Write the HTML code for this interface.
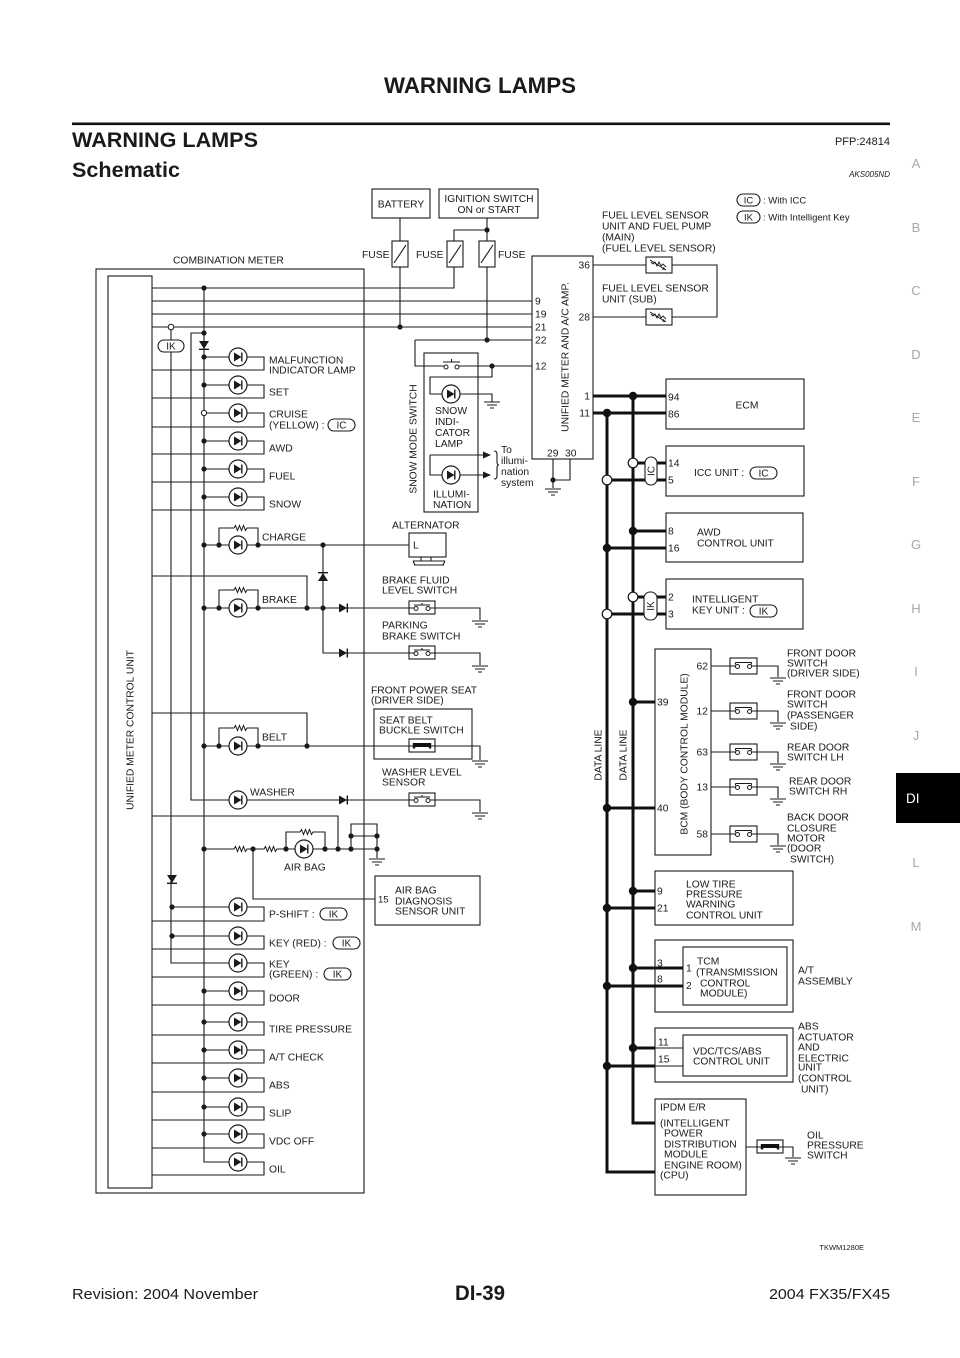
<!DOCTYPE html>
<html><head><meta charset="utf-8"><style>
html,body{margin:0;padding:0;background:#fff;}
svg{display:block;}
text{font-family:"Liberation Sans",Arial,sans-serif;fill:#1a1a1a;}
.t{font-size:10.3px;}
.w{fill:none;stroke:#1a1a1a;stroke-width:1.1;}
.k{fill:none;stroke:#111;stroke-width:3;}
.b{fill:#fff;stroke:#1a1a1a;stroke-width:1.1;}
.tab{font-size:13px;fill:#a8a8a8;text-anchor:middle;}
</style></head><body>
<svg width="960" height="1358" viewBox="0 0 960 1358" xmlns="http://www.w3.org/2000/svg">
<defs>
<g id="lamp"><circle r="9" fill="#fff" stroke="#1a1a1a" stroke-width="1.2"/><path d="M-4,-4.5 L-4,4.5 L3.5,0 Z" fill="#1a1a1a"/><path d="M3.8,-4.5 V4.5" stroke="#1a1a1a" stroke-width="1.4"/></g>
<g id="dR"><path d="M-4,-4.5 L-4,4.5 L4,0 Z" fill="#1a1a1a"/><path d="M4.3,-4.5 V4.5" stroke="#1a1a1a" stroke-width="1.4"/></g>
<g id="dD"><path d="M-5,-4 L5,-4 L0,4 Z" fill="#1a1a1a"/><path d="M-5,4.3 H5" stroke="#1a1a1a" stroke-width="1.4"/></g>
<g id="dU"><path d="M-5,4 L5,4 L0,-4 Z" fill="#1a1a1a"/><path d="M-5,-4.3 H5" stroke="#1a1a1a" stroke-width="1.4"/></g>
<g id="gnd"><path d="M-8,0 H8 M-5,3 H5 M-2,6 H2" stroke="#1a1a1a" stroke-width="1.1" fill="none"/></g>
<g id="sw"><rect x="-13" y="-7" width="26" height="13" fill="#fff" stroke="#1a1a1a" stroke-width="1.1"/><path d="M-8,-3 H8 M0,-3 V-5 M-13,0 H-8 M8,0 H13" stroke="#1a1a1a" stroke-width="1.1" fill="none"/><circle cx="-6" cy="0.5" r="2" fill="#fff" stroke="#1a1a1a"/><circle cx="6" cy="0.5" r="2" fill="#fff" stroke="#1a1a1a"/></g>
<g id="dsw"><rect x="-13.5" y="-8" width="27" height="16" fill="#fff" stroke="#1a1a1a" stroke-width="1.1"/><path d="M-8,-3.5 H8 M-8,-3.5 V-1.5 M8,-3.5 V-1.5 M-13.5,0 H-8 M8,0 H13.5" stroke="#1a1a1a" stroke-width="1.1" fill="none"/><circle cx="-6" cy="0.5" r="2" fill="#fff" stroke="#1a1a1a"/><circle cx="6" cy="0.5" r="2" fill="#fff" stroke="#1a1a1a"/></g>
<g id="bsw"><rect x="-13" y="-7" width="26" height="13" fill="#fff" stroke="#1a1a1a" stroke-width="1.1"/><rect x="-8" y="-3" width="16" height="4" fill="#111"/><path d="M-8,-3 V2.5 M8,-3 V2.5" stroke="#111" stroke-width="2.4"/><path d="M-13,0 H-9 M9,0 H13" stroke="#1a1a1a" stroke-width="1.1"/></g>
<g id="res"><rect x="-8" y="-3" width="16" height="6" fill="#fff"/><path d="M-8,0 H-6 l1.5,-2.5 l2,5 l2,-5 l2,5 l2,-5 l2,5 l1.5,-2.5 H8" stroke="#1a1a1a" stroke-width="1" fill="none"/></g>
<g id="fuse"><rect x="-8" y="-13" width="16" height="26" fill="#fff" stroke="#1a1a1a" stroke-width="1.1"/><path d="M-6,9 L6,-9" stroke="#1a1a1a" stroke-width="1.1"/></g>
<g id="vres"><rect x="-13" y="-8" width="26" height="16" fill="#fff" stroke="#1a1a1a" stroke-width="1.1"/><path d="M-8,-3 l2,2 l2,-2 l2,4 l2,-4 l2,4 l2,-2 l3,3" stroke="#1a1a1a" stroke-width="0.9" fill="none"/><path d="M-9,-5 L7,5" stroke="#1a1a1a" stroke-width="0.9"/><path d="M7,5 l-4,-0.5 l1.5,-2.5 z" fill="#1a1a1a"/></g>
</defs>

<!-- Header -->
<text x="480" y="93" font-size="22" font-weight="bold" text-anchor="middle" textLength="192" lengthAdjust="spacingAndGlyphs">WARNING LAMPS</text>
<rect x="72" y="122.5" width="818" height="2.6" fill="#111"/>
<text x="72" y="147" font-size="21.5" font-weight="bold" textLength="186" lengthAdjust="spacingAndGlyphs">WARNING LAMPS</text>
<text x="890" y="145" font-size="11" text-anchor="end">PFP:24814</text>
<text x="72" y="177" font-size="21.5" font-weight="bold" textLength="108" lengthAdjust="spacingAndGlyphs">Schematic</text>
<text x="890" y="177" font-size="8" font-style="italic" text-anchor="end">AKS005ND</text>

<!-- Tabs -->
<text class="tab" x="916" y="168">A</text>
<text class="tab" x="916" y="232">B</text>
<text class="tab" x="916" y="295">C</text>
<text class="tab" x="916" y="359">D</text>
<text class="tab" x="916" y="422">E</text>
<text class="tab" x="916" y="486">F</text>
<text class="tab" x="916" y="549">G</text>
<text class="tab" x="916" y="613">H</text>
<text class="tab" x="916" y="676">I</text>
<text class="tab" x="916" y="740">J</text>
<rect x="896" y="773" width="64" height="50" fill="#000"/>
<text x="906" y="803" font-size="13.5" style="fill:#fff">DI</text>
<text class="tab" x="916" y="867">L</text>
<text class="tab" x="916" y="931">M</text>

<!-- Footer -->
<text x="864" y="1250" font-size="7.5" text-anchor="end">TKWM1280E</text>
<text x="72" y="1299" font-size="15" textLength="186" lengthAdjust="spacingAndGlyphs">Revision: 2004 November</text>
<text x="480" y="1300" font-size="21" font-weight="bold" text-anchor="middle" textLength="50" lengthAdjust="spacingAndGlyphs">DI-39</text>
<text x="890" y="1299" font-size="15" text-anchor="end" textLength="121" lengthAdjust="spacingAndGlyphs">2004 FX35/FX45</text>

<!-- ===== Top power section ===== -->
<rect class="b" x="372" y="189" width="58" height="29"/>
<text class="t" x="401" y="207.5" text-anchor="middle">BATTERY</text>
<rect class="b" x="439" y="189" width="99" height="29"/>
<text class="t" x="489" y="202" text-anchor="middle">IGNITION SWITCH</text>
<text class="t" x="489" y="213" text-anchor="middle">ON or START</text>

<path class="w" d="M400,218 V327 M487,218 V340 M487,230 H454 V288 H152 M152,301 H532 M152,314 H532 M152,327 H532 M415,340 H532 M415,340 V366 H444 M459,366 H532"/>
<use href="#fuse" x="400" y="254"/>
<use href="#fuse" x="455" y="254"/>
<use href="#fuse" x="487" y="254"/>
<text class="t" x="362" y="258">FUSE</text>
<text class="t" x="416" y="258">FUSE</text>
<text class="t" x="498" y="258">FUSE</text>

<text class="t" x="173" y="263.5">COMBINATION METER</text>

<!-- Combination meter boxes -->
<rect class="w" x="96" y="269" width="268" height="924"/>
<rect class="w" x="108" y="276" width="44" height="912"/>
<text class="t" transform="translate(130,730) rotate(-90)" text-anchor="middle" dy="3.5">UNIFIED METER CONTROL UNIT</text>

<!-- Snow mode switch -->
<rect class="w" x="424" y="353" width="54" height="159"/>
<text class="t" transform="translate(413,439) rotate(-90)" text-anchor="middle" dy="3.5">SNOW MODE SWITCH</text>
<path class="w" d="M443,362 H460 M451.5,362 V359"/>
<circle cx="446" cy="367" r="2" fill="#fff" stroke="#1a1a1a"/>
<circle cx="457" cy="367" r="2" fill="#fff" stroke="#1a1a1a"/>
<path class="w" d="M492,366 V377 H430 V394 H492 V402"/>
<use href="#gnd" x="492" y="402"/>
<use href="#lamp" x="451" y="394"/>
<text class="t" x="435" y="414">SNOW</text>
<text class="t" x="435" y="425">INDI-</text>
<text class="t" x="435" y="436">CATOR</text>
<text class="t" x="435" y="447">LAMP</text>
<path class="w" d="M430,455 H484 M430,455 V475 H484"/>
<path d="M483,451.5 L491,455 L483,458.5 Z M483,471.5 L491,475 L483,478.5 Z" fill="#1a1a1a"/>
<use href="#lamp" x="451" y="475"/>
<path class="w" d="M494,451 q3,0 3,3 v8 q0,3 2,3 q-2,0 -2,3 v8 q0,3 -3,3"/>
<text class="t" x="501" y="453">To</text>
<text class="t" x="501" y="464">illumi-</text>
<text class="t" x="501" y="475">nation</text>
<text class="t" x="501" y="486">system</text>
<text class="t" x="433" y="497.5">ILLUMI-</text>
<text class="t" x="433" y="508">NATION</text>

<!-- Unified meter and A/C amp -->
<rect class="w" x="532" y="256" width="61" height="203"/>
<text class="t" transform="translate(565,357) rotate(-90)" text-anchor="middle" dy="3.5">UNIFIED METER AND A/C AMP.</text>
<text class="t" x="535" y="304.5">9</text>
<text class="t" x="535" y="317.5">19</text>
<text class="t" x="535" y="330.5">21</text>
<text class="t" x="535" y="343.5">22</text>
<text class="t" x="535" y="369.5">12</text>
<text class="t" x="590" y="268.5" text-anchor="end">36</text>
<text class="t" x="590" y="320.5" text-anchor="end">28</text>
<text class="t" x="590" y="399.5" text-anchor="end">1</text>
<text class="t" x="590" y="416.5" text-anchor="end">11</text>
<text class="t" x="547" y="456.5">29</text>
<text class="t" x="565" y="456.5">30</text>
<path class="w" d="M553,459 V488 M570,459 V480 H553"/>
<use href="#gnd" x="553" y="489"/>

<!-- Fuel sensors -->
<path class="w" d="M593,265 H717 V317 H593"/>
<use href="#vres" x="659" y="265"/>
<use href="#vres" x="659" y="317"/>
<text class="t" x="602" y="218.5">FUEL LEVEL SENSOR</text>
<text class="t" x="602" y="229.5">UNIT AND FUEL PUMP</text>
<text class="t" x="602" y="240.5">(MAIN)</text>
<text class="t" x="602" y="251.5">(FUEL LEVEL SENSOR)</text>
<text class="t" x="602" y="291.5">FUEL LEVEL SENSOR</text>
<text class="t" x="602" y="302.5">UNIT (SUB)</text>

<!-- Legend -->
<rect class="b" x="737" y="194" width="23" height="12" rx="6"/>
<text x="748.5" y="203.5" font-size="9.5" text-anchor="middle">IC</text>
<text x="763" y="203.5" font-size="9.5">: With ICC</text>
<rect class="b" x="737" y="211" width="23" height="12" rx="6"/>
<text x="748.5" y="220.5" font-size="9.5" text-anchor="middle">IK</text>
<text x="763" y="220.5" font-size="9.5">: With Intelligent Key</text>

<!-- ===== Lamp section ===== -->
<path class="w" d="M204,288 V1162 H264 V1175 H152
M204,333 H191 V800 H409
M171,330 V963 H264 V977 H152
M204,357 H264 V370 H152
M204,385 H264 V398 H152
M204,413 H264 V427 H152
M204,441 H264 V454 H152
M204,469 H264 V482 H152
M204,497 H264 V510 H152
M204,545 H409 M219,545 V528 H258 V545
M204,608 H409 M219,608 V590 H258 V608 M152,576 H307 V608 M435,608 H480 V620
M323,545 V653 H409 M435,653 H480 V665
M204,746 H409 M219,746 V728 H258 V746 M152,713 H307 V746 M435,746 H480 V760
M435,800 H480 V812
M204,849 H377 M286,849 V832 H325 V849 M351,849 V824 H377 V849 M351,836 H377 M152,816 H338 V849 M377,849 V858 M253,849 V899 H375
M172,907 H264 V921 H152
M172,936 H264 V949 H152
M204,991 H264 V1005 H152
M204,1022 H264 V1035 H152
M204,1050 H264 V1063 H152
M204,1078 H264 V1092 H152
M204,1107 H264 V1120 H152
M204,1134 H264 V1148 H152"/>

<use href="#dD" x="204" y="345"/>
<use href="#dD" x="172" y="879"/>
<use href="#dU" x="323" y="577"/>
<use href="#dR" x="343" y="608"/>
<use href="#dR" x="343" y="653"/>
<use href="#dR" x="343" y="800"/>

<use href="#res" x="240" y="528"/>
<use href="#res" x="240" y="590"/>
<use href="#res" x="240" y="728"/>
<use href="#res" x="240" y="849"/>
<use href="#res" x="270" y="849"/>
<use href="#res" x="306" y="832"/>

<use href="#sw" x="422" y="608"/>
<use href="#sw" x="422" y="653"/>
<use href="#bsw" x="422" y="746"/>
<use href="#sw" x="422" y="800"/>
<use href="#gnd" x="480" y="621"/>
<use href="#gnd" x="480" y="666"/>
<use href="#gnd" x="480" y="761"/>
<use href="#gnd" x="480" y="813"/>
<use href="#gnd" x="377" y="859"/>

<!-- lamps -->
<use href="#lamp" x="238" y="357"/>
<use href="#lamp" x="238" y="385"/>
<use href="#lamp" x="238" y="413"/>
<use href="#lamp" x="238" y="441"/>
<use href="#lamp" x="238" y="469"/>
<use href="#lamp" x="238" y="497"/>
<use href="#lamp" x="238" y="545"/>
<use href="#lamp" x="238" y="608"/>
<use href="#lamp" x="238" y="746"/>
<use href="#lamp" x="238" y="800"/>
<use href="#lamp" x="304" y="849"/>
<use href="#lamp" x="238" y="907"/>
<use href="#lamp" x="238" y="936"/>
<use href="#lamp" x="238" y="963"/>
<use href="#lamp" x="238" y="991"/>
<use href="#lamp" x="238" y="1022"/>
<use href="#lamp" x="238" y="1050"/>
<use href="#lamp" x="238" y="1078"/>
<use href="#lamp" x="238" y="1107"/>
<use href="#lamp" x="238" y="1134"/>
<use href="#lamp" x="238" y="1162"/>

<!-- dots -->
<g fill="#1a1a1a">
<circle cx="204" cy="288" r="2.6"/><circle cx="204" cy="333" r="2.6"/><circle cx="204" cy="357" r="2.6"/><circle cx="204" cy="385" r="2.6"/>
<circle cx="204" cy="441" r="2.6"/><circle cx="204" cy="469" r="2.6"/><circle cx="204" cy="497" r="2.6"/>
<circle cx="204" cy="545" r="2.6"/><circle cx="219" cy="545" r="2.6"/><circle cx="258" cy="545" r="2.6"/><circle cx="323" cy="545" r="2.6"/>
<circle cx="204" cy="608" r="2.6"/><circle cx="219" cy="608" r="2.6"/><circle cx="258" cy="608" r="2.6"/><circle cx="307" cy="608" r="2.6"/><circle cx="323" cy="608" r="2.6"/>
<circle cx="204" cy="746" r="2.6"/><circle cx="219" cy="746" r="2.6"/><circle cx="258" cy="746" r="2.6"/><circle cx="307" cy="746" r="2.6"/>
<circle cx="204" cy="849" r="2.6"/><circle cx="253" cy="849" r="2.6"/><circle cx="286" cy="849" r="2.6"/><circle cx="325" cy="849" r="2.6"/><circle cx="338" cy="849" r="2.6"/><circle cx="351" cy="849" r="2.6"/><circle cx="377" cy="849" r="2.6"/><circle cx="351" cy="836" r="2.6"/><circle cx="377" cy="836" r="2.6"/>
<circle cx="172" cy="907" r="2.6"/><circle cx="172" cy="936" r="2.6"/>
<circle cx="204" cy="991" r="2.6"/><circle cx="204" cy="1022" r="2.6"/><circle cx="204" cy="1050" r="2.6"/><circle cx="204" cy="1078" r="2.6"/><circle cx="204" cy="1107" r="2.6"/><circle cx="204" cy="1134" r="2.6"/>
<circle cx="400" cy="327" r="2.6"/><circle cx="487" cy="340" r="2.6"/><circle cx="487" cy="230" r="2.6"/><circle cx="492" cy="366" r="2.6"/><circle cx="553" cy="480" r="2.6"/>
</g>
<circle cx="204" cy="413" r="2.6" fill="#fff" stroke="#1a1a1a"/>
<circle cx="171" cy="327" r="2.8" fill="#fff" stroke="#1a1a1a"/>

<!-- IK capsule -->
<rect class="b" x="158" y="340" width="26" height="12" rx="6"/>
<text x="171" y="349.5" font-size="10" text-anchor="middle">IK</text>

<!-- lamp labels -->
<text class="t" x="269" y="363.5">MALFUNCTION</text>
<text class="t" x="269" y="373.5">INDICATOR LAMP</text>
<text class="t" x="269" y="395.5">SET</text>
<text class="t" x="269" y="417.5">CRUISE</text>
<text class="t" x="269" y="428.5">(YELLOW) :</text>
<rect class="b" x="328" y="419" width="27" height="12" rx="6"/>
<text x="341.5" y="428.5" font-size="10" text-anchor="middle">IC</text>
<text class="t" x="269" y="451.5">AWD</text>
<text class="t" x="269" y="479.5">FUEL</text>
<text class="t" x="269" y="507.5">SNOW</text>
<text class="t" x="262" y="540.5">CHARGE</text>
<text class="t" x="262" y="603">BRAKE</text>
<text class="t" x="262" y="740.5">BELT</text>
<text class="t" x="250" y="795.5">WASHER</text>
<text class="t" x="284" y="870.5">AIR BAG</text>

<!-- Alternator -->
<rect class="w" x="409" y="533" width="37" height="24"/>
<text class="t" x="413" y="548.5">L</text>
<path class="w" d="M421,557 V561 M431,557 V561 M413,561 H445 M414,565 H444 M413,561 L415,565 M445,561 L443,565"/>
<text class="t" x="392" y="528.5">ALTERNATOR</text>
<text class="t" x="382" y="583.5">BRAKE FLUID</text>
<text class="t" x="382" y="593.5">LEVEL SWITCH</text>
<text class="t" x="382" y="628.5">PARKING</text>
<text class="t" x="382" y="639.5">BRAKE SWITCH</text>
<text class="t" x="371" y="693.5">FRONT POWER SEAT</text>
<text class="t" x="371" y="703.5">(DRIVER SIDE)</text>
<rect class="w" x="374" y="709" width="98" height="50"/>
<text class="t" x="379" y="723.5">SEAT BELT</text>
<text class="t" x="379" y="733.5">BUCKLE SWITCH</text>
<text class="t" x="382" y="775.5">WASHER LEVEL</text>
<text class="t" x="382" y="785.5">SENSOR</text>

<!-- Air bag diag -->
<rect class="w" x="375" y="876" width="105" height="49"/>
<text x="378" y="902.5" font-size="9.5">15</text>
<text class="t" x="395" y="893.5">AIR BAG</text>
<text class="t" x="395" y="904.5">DIAGNOSIS</text>
<text class="t" x="395" y="914.5">SENSOR UNIT</text>

<text class="t" x="269" y="917.5">P-SHIFT :</text>
<rect class="b" x="320" y="908" width="27" height="12" rx="6"/>
<text x="333.5" y="917.5" font-size="10" text-anchor="middle">IK</text>
<text class="t" x="269" y="946.5">KEY (RED) :</text>
<rect class="b" x="333" y="937" width="27" height="12" rx="6"/>
<text x="346.5" y="946.5" font-size="10" text-anchor="middle">IK</text>
<text class="t" x="269" y="967.5">KEY</text>
<text class="t" x="269" y="977.5">(GREEN) :</text>
<rect class="b" x="324" y="968" width="27" height="12" rx="6"/>
<text x="337.5" y="977.5" font-size="10" text-anchor="middle">IK</text>
<text class="t" x="269" y="1001.5">DOOR</text>
<text class="t" x="269" y="1032.5">TIRE PRESSURE</text>
<text class="t" x="269" y="1060.5">A/T CHECK</text>
<text class="t" x="269" y="1088.5">ABS</text>
<text class="t" x="269" y="1116.5">SLIP</text>
<text class="t" x="269" y="1144.5">VDC OFF</text>
<text class="t" x="269" y="1172.5">OIL</text>

<!-- ===== Right side modules ===== -->
<rect class="w" x="666" y="379" width="138" height="50"/>
<text class="t" x="747" y="408.5" text-anchor="middle">ECM</text>
<text class="t" x="668" y="400.5">94</text>
<text class="t" x="668" y="417.5">86</text>

<rect class="w" x="666" y="446" width="138" height="50"/>
<text class="t" x="668" y="466.5">14</text>
<text class="t" x="668" y="483.5">5</text>
<text class="t" x="694" y="476">ICC UNIT :</text>
<rect class="b" x="750" y="467" width="27" height="12" rx="6"/>
<text x="763.5" y="476.5" font-size="10" text-anchor="middle">IC</text>

<rect class="w" x="666" y="513" width="137" height="49"/>
<text class="t" x="668" y="534.5">8</text>
<text class="t" x="668" y="551.5">16</text>
<text class="t" x="697" y="535.5">AWD</text>
<text class="t" x="697" y="546.5">CONTROL UNIT</text>

<rect class="w" x="666" y="579" width="137" height="50"/>
<text class="t" x="668" y="600.5">2</text>
<text class="t" x="668" y="617.5">3</text>
<text class="t" x="692" y="602.5">INTELLIGENT</text>
<text class="t" x="692" y="613.5">KEY UNIT :</text>
<rect class="b" x="750" y="605" width="27" height="12" rx="6"/>
<text x="763.5" y="614.5" font-size="10" text-anchor="middle">IK</text>

<!-- BCM -->
<rect class="w" x="655" y="649" width="56" height="206"/>
<text class="t" transform="translate(684,754) rotate(-90)" text-anchor="middle" dy="3.5">BCM (BODY CONTROL MODULE)</text>
<text class="t" x="657" y="705.5">39</text>
<text class="t" x="657" y="811.5">40</text>
<text class="t" x="708" y="669.5" text-anchor="end">62</text>
<text class="t" x="708" y="714.5" text-anchor="end">12</text>
<text class="t" x="708" y="755.5" text-anchor="end">63</text>
<text class="t" x="708" y="790.5" text-anchor="end">13</text>
<text class="t" x="708" y="837.5" text-anchor="end">58</text>
<path class="w" d="M711,666 H730 M757,666 H778 V677 M711,711 H730 M757,711 H778 V722 M711,752 H730 M757,752 H778 V763 M711,787 H730 M757,787 H778 V798 M711,834 H730 M757,834 H778 V845"/>
<use href="#dsw" x="743.5" y="666"/>
<use href="#dsw" x="743.5" y="711"/>
<use href="#dsw" x="743.5" y="752"/>
<use href="#dsw" x="743.5" y="787"/>
<use href="#dsw" x="743.5" y="834"/>
<use href="#gnd" x="778" y="678"/>
<use href="#gnd" x="778" y="723"/>
<use href="#gnd" x="778" y="764"/>
<use href="#gnd" x="778" y="799"/>
<use href="#gnd" x="778" y="846"/>
<text class="t" x="787" y="656.5">FRONT DOOR</text>
<text class="t" x="787" y="666.5">SWITCH</text>
<text class="t" x="787" y="676.5">(DRIVER SIDE)</text>
<text class="t" x="787" y="697.5">FRONT DOOR</text>
<text class="t" x="787" y="707.5">SWITCH</text>
<text class="t" x="787" y="718.5">(PASSENGER</text>
<text class="t" x="790" y="729.5">SIDE)</text>
<text class="t" x="787" y="750.5">REAR DOOR</text>
<text class="t" x="787" y="760.5">SWITCH LH</text>
<text class="t" x="789" y="784.5">REAR DOOR</text>
<text class="t" x="789" y="794.5">SWITCH RH</text>
<text class="t" x="787" y="820.5">BACK DOOR</text>
<text class="t" x="787" y="831.5">CLOSURE</text>
<text class="t" x="787" y="841.5">MOTOR</text>
<text class="t" x="787" y="851.5">(DOOR</text>
<text class="t" x="790" y="862.5">SWITCH)</text>

<!-- Low tire -->
<rect class="w" x="655" y="871" width="138" height="54"/>
<text class="t" x="657" y="894.5">9</text>
<text class="t" x="657" y="911.5">21</text>
<text class="t" x="686" y="887.5">LOW TIRE</text>
<text class="t" x="686" y="897.5">PRESSURE</text>
<text class="t" x="686" y="907.5">WARNING</text>
<text class="t" x="686" y="918.5">CONTROL UNIT</text>

<!-- A/T -->
<rect class="w" x="655" y="940" width="138" height="72"/>
<rect class="w" x="683" y="947" width="104" height="58"/>
<text class="t" x="657" y="966.5">3</text>
<text class="t" x="657" y="982.5">8</text>
<text class="t" x="686" y="971.5">1</text>
<text class="t" x="686" y="989">2</text>
<text class="t" x="697" y="964.5">TCM</text>
<text class="t" x="696" y="975.5">(TRANSMISSION</text>
<text class="t" x="700" y="986.5">CONTROL</text>
<text class="t" x="700" y="996.5">MODULE)</text>
<text class="t" x="798" y="973.5">A/T</text>
<text class="t" x="798" y="984.5">ASSEMBLY</text>

<!-- ABS -->
<rect class="w" x="655" y="1028" width="138" height="54"/>
<rect class="w" x="683" y="1035" width="104" height="41"/>
<text class="t" x="658" y="1045.5">11</text>
<text class="t" x="658" y="1062.5">15</text>
<path class="w" d="M655,1048 H683 M655,1066 H683"/>
<text class="t" x="693" y="1054.5">VDC/TCS/ABS</text>
<text class="t" x="693" y="1064.5">CONTROL UNIT</text>
<text class="t" x="798" y="1029.5">ABS</text>
<text class="t" x="798" y="1040.5">ACTUATOR</text>
<text class="t" x="798" y="1050.5">AND</text>
<text class="t" x="798" y="1061.5">ELECTRIC</text>
<text class="t" x="798" y="1070.5">UNIT</text>
<text class="t" x="798" y="1081.5">(CONTROL</text>
<text class="t" x="801" y="1092.5">UNIT)</text>

<!-- IPDM -->
<rect class="w" x="655" y="1099" width="91" height="96"/>
<text class="t" x="660" y="1110.5">IPDM E/R</text>
<text class="t" x="660" y="1126.5">(INTELLIGENT</text>
<text class="t" x="664" y="1136.5">POWER</text>
<text class="t" x="664" y="1147.5">DISTRIBUTION</text>
<text class="t" x="664" y="1157.5">MODULE</text>
<text class="t" x="664" y="1168.5">ENGINE ROOM)</text>
<text class="t" x="660" y="1178.5">(CPU)</text>
<path class="w" d="M746,1147 H757 M783,1147 H793 V1157"/>
<use href="#bsw" x="770" y="1147"/>
<use href="#gnd" x="793" y="1158"/>
<text class="t" x="807" y="1138.5">OIL</text>
<text class="t" x="807" y="1148.5">PRESSURE</text>
<text class="t" x="807" y="1158.5">SWITCH</text>

<!-- Data lines (thick) -->
<path class="k" d="M593,396 H666 M593,413 H666
M633,396 V1123 H655
M607,413 V1172 H655
M633,463 H666 M607,480 H666
M633,531 H666 M607,548 H666
M633,597 H666 M607,614 H666
M633,702 H655 M607,808 H655
M633,891 H655 M607,908 H655
M633,968 H683 M607,986 H683
M633,1048 H655 M607,1066 H655"/>
<g fill="#111">
<circle cx="633" cy="396" r="4.2"/><circle cx="607" cy="413" r="4.2"/>
<circle cx="633" cy="531" r="4.2"/><circle cx="607" cy="548" r="4.2"/>
<circle cx="633" cy="702" r="4.2"/><circle cx="607" cy="808" r="4.2"/>
<circle cx="633" cy="891" r="4.2"/><circle cx="607" cy="908" r="4.2"/>
<circle cx="633" cy="968" r="4.2"/><circle cx="607" cy="986" r="4.2"/>
<circle cx="633" cy="1048" r="4.2"/><circle cx="607" cy="1066" r="4.2"/>
</g>
<g fill="#fff" stroke="#111" stroke-width="1.2">
<circle cx="633" cy="463" r="4.8"/><circle cx="607" cy="480" r="4.8"/>
<circle cx="633" cy="597" r="4.8"/><circle cx="607" cy="614" r="4.8"/>
</g>
<rect class="b" x="645" y="457" width="12" height="28" rx="6"/>
<text transform="translate(651,471) rotate(-90)" font-size="10" text-anchor="middle" dy="3.5">IC</text>
<rect class="b" x="644" y="592" width="13" height="28" rx="6"/>
<text transform="translate(650.5,606) rotate(-90)" font-size="10" text-anchor="middle" dy="3.5">IK</text>

<text class="t" transform="translate(598,755) rotate(-90)" text-anchor="middle" dy="3.5">DATA LINE</text>
<text class="t" transform="translate(623,755) rotate(-90)" text-anchor="middle" dy="3.5">DATA LINE</text>
</svg>
</body></html>
